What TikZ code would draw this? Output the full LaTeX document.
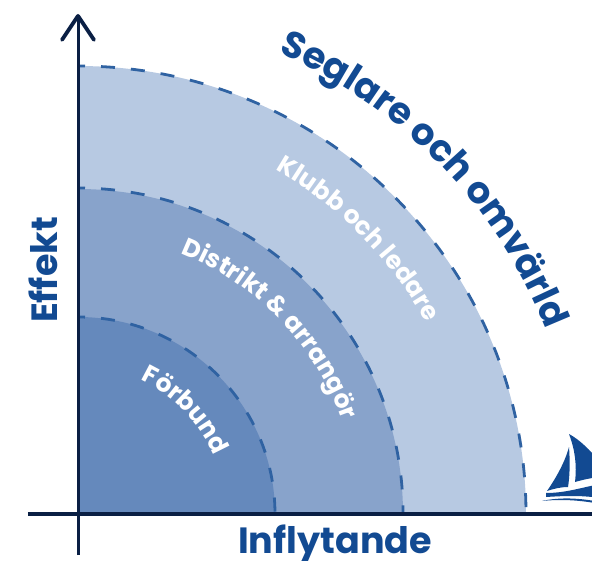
\documentclass[tikz,border=0pt]{standalone}
\usepackage{fontspec}
\setmainfont{Poppins}
\usetikzlibrary{arrows.meta,decorations.text}
\definecolor{zoneA}{HTML}{6589BC}
\definecolor{zoneB}{HTML}{88A3CB}
\definecolor{zoneC}{HTML}{B7C9E2}
\definecolor{rim}{HTML}{2F62A2}
\definecolor{ink}{HTML}{124A92}
\definecolor{axis}{HTML}{0A1F44}
\tikzset{
  rimline/.style={draw=rim,line width=2.8pt,dash pattern=on 14pt off 16pt,dash phase=7pt},
  axisline/.style={draw=axis,line width=3pt},
  axislabel/.style={text=ink,font=\fontsize{36.5}{36.5}\selectfont\bfseries,inner sep=0pt},
}
\newcommand{\arclabel}[5]{% radius, centre angle shift, text, size, colour
  \path[postaction={decorate},decoration={text along path,text align=center,
    text={|\fontsize{#4}{#4}\selectfont\bfseries\color{#5}|#3}}]
    (#2+90:#1) arc[start angle=#2+90,end angle=#2,radius=#1];
}
\begin{document}
\begin{tikzpicture}[x=1pt,y=1pt]
\useasboundingbox (-78,-46) rectangle (514,514);
\coordinate (O) at (0,0);
% zones
\fill[zoneC] (O) -- (448,0) arc[start angle=0,end angle=90,radius=448] -- cycle;
\fill[zoneB] (O) -- (325,0) arc[start angle=0,end angle=90,radius=325] -- cycle;
\fill[zoneA] (O) -- (197,0) arc[start angle=0,end angle=90,radius=197] -- cycle;
\draw[rimline] (0,448) arc[start angle=90,end angle=0,radius=448];
\draw[rimline] (0,326) arc[start angle=90,end angle=0,radius=325];
\draw[rimline] (0,197) arc[start angle=90,end angle=0,radius=197];
% axes
\coordinate (Top) at (0,500);
\coordinate (Low) at (0,-41);
\coordinate (Left) at (-50,0);
\coordinate (Right) at (514,0);
\draw[axisline,-{Straight Barb[length=24pt,width=32pt,round,line width=3.8pt]}] (Low) -- (Top);
\draw[axisline,line width=3.6pt] (Left) -- (Right);
% labels
\node[axislabel,rotate=90] (Effekt) at (-35,244) {Effekt};
\node[axislabel] (Inflytande) at (257,-30) {Inflytande};
\arclabel{148}{-1}{Förbund}{25}{white}
\arclabel{280}{-1}{Distrikt {\&} arrangör}{25}{white}
\arclabel{397}{-0.5}{Klubb och ledare}{25}{white}
\arclabel{503}{-1}{Seglare och omvärld}{37}{ink}
% boat
\begin{scope}[shift={(-78,514)},y=-1pt]
\clip (500,410) rectangle (592,520);
\fill[ink] (569,434) .. controls (580,440) and (590,450) .. (600,462)
  -- (600,477) .. controls (590,478) and (582,480) .. (575,482)
  .. controls (577,465) and (575,450) .. (569,434) -- cycle;
\fill[ink] (569,447) .. controls (570,460) and (570,475) .. (568,487)
  .. controls (560,487) and (553,489) .. (547,491)
  .. controls (556,478) and (565,462) .. (569,447) -- cycle;
\fill[ink] (546,493) .. controls (565,493) and (580,488) .. (600,484)
  -- (600,498) .. controls (580,495) and (562,496) .. (546,497) -- cycle;
\fill[ink] (542,501) .. controls (560,497) and (580,498) .. (600,502)
  -- (600,504) .. controls (580,500) and (560,499) .. (542,501) -- cycle;
\end{scope}
\end{tikzpicture}
\end{document}
